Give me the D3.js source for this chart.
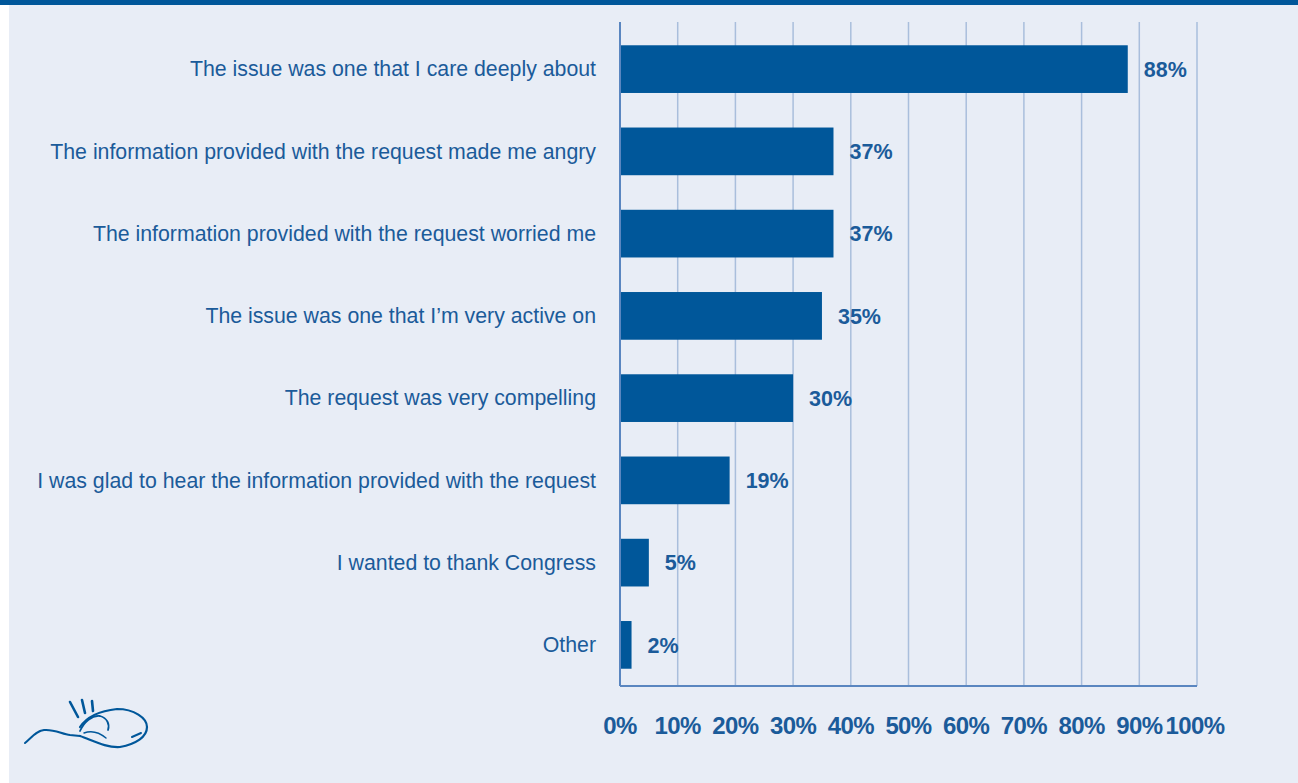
<!DOCTYPE html>
<html>
<head>
<meta charset="utf-8">
<script src="https://cdn.jsdelivr.net/npm/d3@7"></script>
<style>
  html, body { margin: 0; padding: 0; background: #ffffff; }
  svg { display: block; }
</style>
</head>
<body>
<div id="viz"></div>
<script>
  // chart data
  var categories = [
    'The issue was one that I care deeply about',
    'The information provided with the request made me angry',
    'The information provided with the request worried me',
    'The issue was one that I\u2019m very active on',
    'The request was very compelling',
    'I was glad to hear the information provided with the request',
    'I wanted to thank Congress',
    'Other'
  ];
  var values = [88, 37, 37, 35, 30, 19, 5, 2];
  var tickValues = [0, 10, 20, 30, 40, 50, 60, 70, 80, 90, 100];

  (function () {
    'use strict';

    var W = 1298, H = 783;
    var blue = '#00579a', textBlue = '#1b5b9a';
    var plotLeft = 620, plotRight = 1197, plotTop = 28, plotBottom = 686;

    var svg = d3.select('#viz').append('svg')
      .attr('width', W).attr('height', H);

    // background panel
    svg.append('rect').attr('x', 9).attr('y', 0).attr('width', W - 9).attr('height', H).attr('fill', '#e8edf6');
    svg.append('rect').attr('x', 0).attr('y', 0).attr('width', W).attr('height', 5).attr('fill', blue);

    var x = d3.scaleLinear().domain([0, 100]).range([plotLeft, plotRight]);
    var y = d3.scaleBand().domain(categories).range([plotTop, plotBottom]).paddingInner(0.42).paddingOuter(0.21);

    // grid lines
    svg.append('g').selectAll('line')
      .data(tickValues.slice(1))
      .enter().append('line')
      .attr('x1', d => x(d)).attr('x2', d => x(d))
      .attr('y1', 22).attr('y2', plotBottom)
      .attr('stroke', '#a9bedc').attr('stroke-width', 1.5);

    // axis lines
    svg.append('line').attr('x1', x(0)).attr('x2', x(0)).attr('y1', 22).attr('y2', plotBottom)
      .attr('stroke', '#5a86c0').attr('stroke-width', 2);
    svg.append('line').attr('x1', x(0)).attr('x2', x(100)).attr('y1', plotBottom).attr('y2', plotBottom)
      .attr('stroke', '#5a86c0').attr('stroke-width', 2);

    // bars
    svg.append('g').selectAll('rect')
      .data(values)
      .enter().append('rect')
      .attr('x', x(0) + 1)
      .attr('y', (d, i) => y(categories[i]))
      .attr('width', d => x(d) - x(0) - 1)
      .attr('height', y.bandwidth())
      .attr('fill', blue);

    // value labels
    svg.append('g').selectAll('text')
      .data(values)
      .enter().append('text')
      .attr('x', d => x(d) + 16)
      .attr('y', (d, i) => y(categories[i]) + y.bandwidth() / 2)
      .attr('dy', '0.36em')
      .attr('fill', textBlue)
      .style('font', 'bold 21.5px "Liberation Sans", Arial, sans-serif')
      .text(d => d + '%');

    // category labels
    svg.append('g').selectAll('text')
      .data(categories)
      .enter().append('text')
      .attr('x', 596)
      .attr('y', d => y(d) + y.bandwidth() / 2)
      .attr('dy', '0.34em')
      .attr('text-anchor', 'end')
      .attr('fill', textBlue)
      .style('font', '21.3px "Liberation Sans", Arial, sans-serif')
      .text(d => d);

    // tick labels
    svg.append('g').selectAll('text')
      .data(tickValues)
      .enter().append('text')
      .attr('x', d => x(d) - (d === 100 ? 2 : 0))
      .attr('y', 734)
      .attr('text-anchor', 'middle')
      .attr('fill', textBlue)
      .style('font', 'bold 24px "Liberation Sans", Arial, sans-serif')
      .style('letter-spacing', '-0.6px')
      .text(d => d + '%');

    // little logo, bottom left
    var logo = svg.append('g').attr('fill', 'none').attr('stroke', blue).attr('stroke-linecap', 'round');
    logo.append('path').attr('d', 'M25,743 C32,737 36,731 44,730 C54,729 62,734 70,735 L80,736').attr('stroke-width', 2);
    logo.append('path').attr('d', 'M80,727 C86,718 98,711 117,709 C134,709 147,718 147,727 C147,737 136,744 120,747 C106,748 92,740 80,736').attr('stroke-width', 2.2);
    logo.append('path').attr('d', 'M80,731 C84,722 92,715 100,716 C107,718 110,724 108,730').attr('stroke-width', 1.8);
    logo.append('path').attr('d', 'M84,733 C92,730 100,733 106,738').attr('stroke-width', 1.4);
    logo.append('path').attr('d', 'M132,737 L141,733').attr('stroke-width', 2);
    logo.append('path').attr('d', 'M70,702 L78,717 M82,700 L85,713 M92,701 L93,711').attr('stroke-width', 2.6);
  }());
</script>
</body>
</html>
